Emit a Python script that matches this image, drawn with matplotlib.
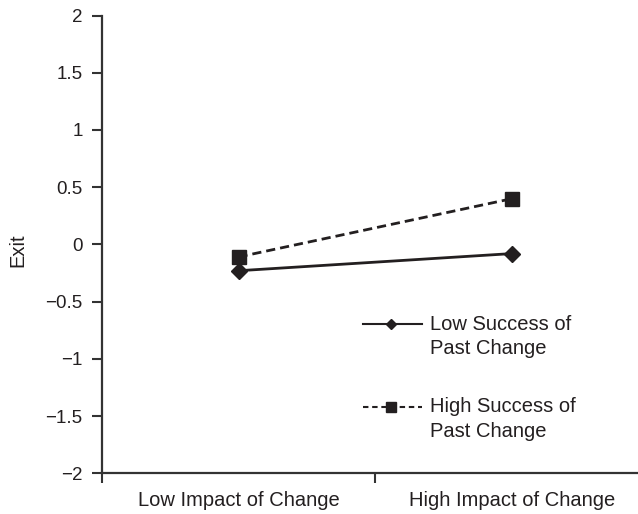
import matplotlib
matplotlib.use("Agg")
import matplotlib.pyplot as plt
from matplotlib.lines import Line2D
from matplotlib.ticker import FuncFormatter

categories = ["Low Impact of Change", "High Impact of Change"]
low_success = [-0.23, -0.08]
high_success = [-0.11, 0.40]
series_labels = ["Low Success of\nPast Change", "High Success of\nPast Change"]
y_ticks = [-2, -1.5, -1, -0.5, 0, 0.5, 1, 1.5, 2]

plt.rcParams["font.family"] = ["Liberation Sans", "DejaVu Sans"]
ink = "#231f20"
axis_col = "#333333"
dash = (0, (3.3, 1.8))

fig = plt.figure(figsize=(6.38, 5.14), dpi=100)
ax = fig.add_axes([0.1594, 0.0792, 0.8406, 0.8906])

x = list(range(len(categories)))
ax.plot(x, low_success, color=ink, lw=2.0, ls="-", marker="D", ms=8,
        mfc=ink, mec=ink, clip_on=False, zorder=3)
ax.plot(x, high_success, color=ink, lw=2.0, ls=dash, marker="s", ms=10,
        mfc=ink, mec=ink, clip_on=False, zorder=3)

ax.set_xlim(-0.5, 1.46)
ax.set_ylim(-2, 2)
ax.set_yticks(y_ticks)
ax.yaxis.set_major_formatter(FuncFormatter(lambda v, p: f"{v:g}".replace("-", "\u2212")))

# category labels sit between the boundary ticks
ax.set_xticks([-0.5, 0.5])
ax.set_xticklabels([])
ax.set_xticks(x, minor=True)
ax.set_xticklabels(categories, minor=True)
ax.tick_params(axis="x", which="minor", length=0, pad=13, labelsize=14.5, colors=ink)
ax.tick_params(axis="x", which="major", length=7.2, width=1.5, color=axis_col, direction="out")
ax.tick_params(axis="y", length=7.2, width=1.5, color=axis_col, direction="out",
               labelsize=13.5, labelcolor=ink, pad=6.5)

for side in ("top", "right"):
    ax.spines[side].set_visible(False)
for side in ("left", "bottom"):
    ax.spines[side].set_color(axis_col)
    ax.spines[side].set_linewidth(1.6)

ax.set_ylabel("Exit", fontsize=14.5, color=ink)
ax.yaxis.set_label_coords(-0.139, 0.488)

# key: handle sits level with the first line of each two-line label
key_rows = [
    (0.3261, 0.2988, "-", "D", 5.5),
    (0.1455, 0.1186, (0, (2.6, 1.8)), "s", 7.5),
]
for (y_line, y_text, ls, mk, ms), label in zip(key_rows, series_labels):
    ax.add_line(Line2D([0.4872, 0.5967], [y_line, y_line], transform=ax.transAxes,
                       color=ink, lw=1.5, ls=ls, clip_on=False))
    ax.add_line(Line2D([0.5402], [y_line], transform=ax.transAxes, color=ink,
                       marker=mk, ms=ms, mfc=ink, mec=ink, ls="none", clip_on=False))
    ax.text(0.6122, y_text, label, transform=ax.transAxes, ha="left", va="center",
            fontsize=14.5, color=ink, linespacing=1.38)

fig.savefig("out.png", dpi=100)
